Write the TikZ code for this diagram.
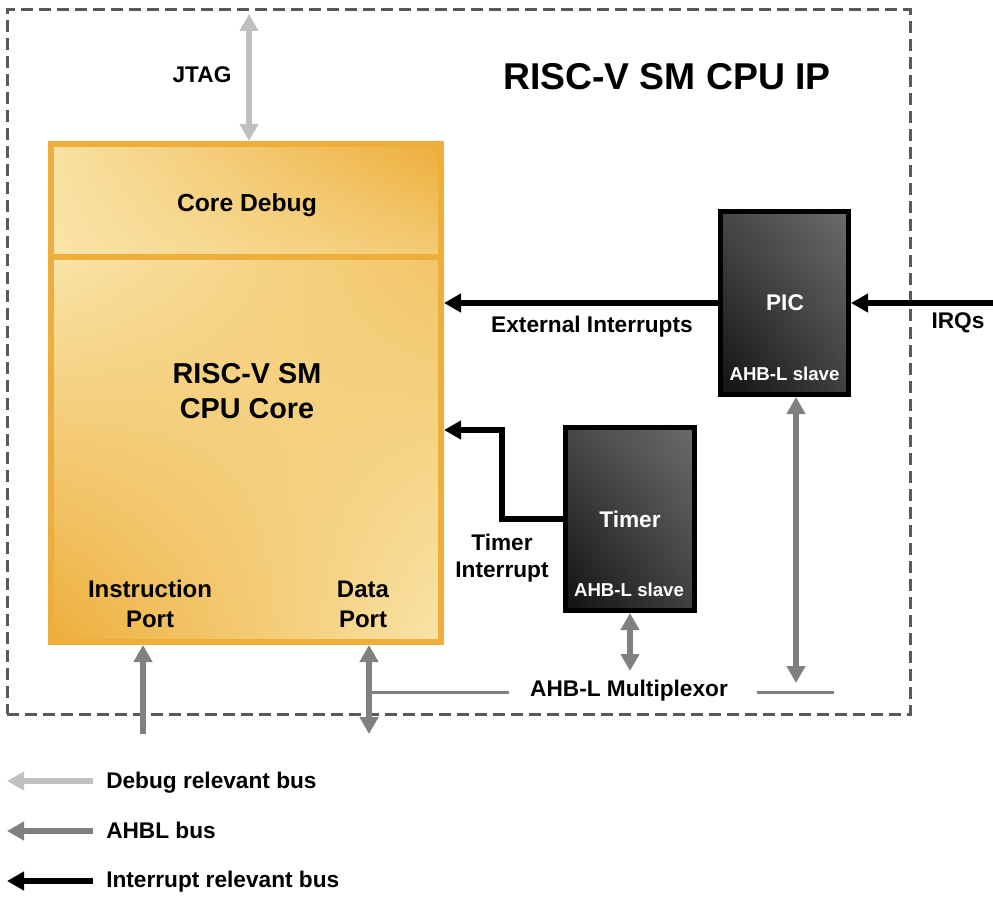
\documentclass[tikz,border=0pt]{standalone}
\usepackage{fontspec}
\setmainfont{Liberation Sans}
\usetikzlibrary{arrows.meta,calc,shadings}
\definecolor{orng}{HTML}{EDAE3B}
\definecolor{lightor}{HTML}{F9E4A8}
\definecolor{midor}{HTML}{F2C567}
\definecolor{dbgc}{HTML}{C0C0C0}
\definecolor{ahbc}{HTML}{808080}
\definecolor{dashgray}{HTML}{5A5A5A}
\tikzset{
  tipA/.tip={Triangle[length=12.75pt,width=13.5pt]},
  txt/.style={inner sep=0pt, font=\bfseries\fontsize{17}{20}\selectfont, align=center},
  orbox/.style={draw=orng, line width=4.5pt},
  darkbox/.style={draw=black, line width=3.75pt, upper left={black!72}, upper right={black!58}, lower left={black!93}, lower right={black!75}},
  dbgbus/.style={draw=dbgc, line width=4.5pt},
  ahbbus/.style={draw=ahbc, line width=4.5pt},
  irqbus/.style={draw=black, line width=4.5pt},
  muxline/.style={draw=ahbc, line width=2.25pt},
}
\begin{document}
\begin{tikzpicture}[x=0.75pt,y=-0.75pt]
\useasboundingbox (0,0) rectangle (993,906);
% outer dashed IP box
\node[draw=dashgray, line width=2.25pt, dash pattern=on 9pt off 4.5pt, minimum width={903*0.75pt}, minimum height={704*0.75pt}, inner sep=0pt, outer sep=0pt] (ip) at (458.5,362) {};
\node[txt, font=\bfseries\fontsize{28}{34}\selectfont] (title) at (667,77) {RISC-V SM CPU IP};

% core
\node[orbox, upper left=lightor, upper right=midor, lower left=orng, lower right=lightor, minimum width={390*0.75pt}, minimum height={385*0.75pt}, inner sep=0pt] (core) at (246,449.5) {};
\node[orbox, upper left=lightor!90!midor, upper right=orng, lower left=lightor, lower right=midor!80!lightor, minimum width={390*0.75pt}, minimum height={113*0.75pt}, inner sep=0pt] (debug) at (246,200.5) {};
\node[txt, font=\bfseries\fontsize{18.5}{22}\selectfont] (debugtxt) at (247,205) {Core Debug};
\node[txt, font=\bfseries\fontsize{21.6}{26.25}\selectfont] (coretxt) at (247,391.5) {RISC-V SM\\CPU Core};
\node[txt, font=\bfseries\fontsize{18}{22.5}\selectfont] (iport) at (150,604) {Instruction\\Port};
\node[txt, font=\bfseries\fontsize{18}{22.5}\selectfont] (dport) at (363,604) {Data\\Port};

% PIC and Timer
\node[darkbox, minimum width={128*0.75pt}, minimum height={183*0.75pt}, inner sep=0pt] (pic) at (784.5,303) {};
\node[txt, text=white] (pictxt) at (785,303) {PIC};
\node[txt, text=white, font=\bfseries\fontsize{14}{16}\selectfont] (picslave) at (784.5,374) {AHB-L slave};
\node[darkbox, minimum width={129*0.75pt}, minimum height={183*0.75pt}, inner sep=0pt] (timer) at (630,519) {};
\node[txt, text=white] (timertxt) at (630,519) {Timer};
\node[txt, text=white, font=\bfseries\fontsize{14}{16}\selectfont] (timerslave) at (629,590) {AHB-L slave};

% JTAG
\coordinate (jtagtop) at (249,14);
\draw[dbgbus, {tipA}-{tipA}] (jtagtop) -- (jtagtop |- debug.north);
\node[txt] (jtag) at (202,75) {JTAG};

% interrupts
\draw[irqbus, -{tipA}] (pic.west) -- (core.east |- pic.west);
\node[txt] (extint) at (592,327) {External Interrupts};
\coordinate (irqsrc) at (993,303);
\draw[irqbus, -{tipA}] (irqsrc) -- (pic.east);
\node[txt] (irqs) at (958,323) {IRQs};
\coordinate (tbend) at (502,430);
\draw[irqbus, -{tipA}] (timer.west) -- (tbend |- timer.west) -- (tbend) -- (core.east |- tbend);
\node[txt, font=\bfseries\fontsize{17}{20.25}\selectfont] (tint) at (502,558) {Timer\\Interrupt};

% AHB-L buses
\coordinate (tbus) at (630,671);
\draw[ahbbus, {tipA}-{tipA}] (timer.south) -- (tbus);
\coordinate (pbus) at (796,683);
\draw[ahbbus, {tipA}-{tipA}] (pbus |- pic.south) -- (pbus);
\coordinate (ibus) at (143,734);
\draw[ahbbus, -{tipA}] (ibus) -- (ibus |- core.south);
\coordinate (dbus) at (369,734);
\draw[ahbbus, {tipA}-{tipA}] (dbus |- core.south) -- (dbus);
\node[txt] (mux) at (629,691) {AHB-L Multiplexor};
\coordinate (mla) at (369,692);
\coordinate (mlb) at (509,692);
\coordinate (mlc) at (757,692);
\coordinate (mld) at (834,692);
\draw[muxline] (mla) -- (mlb);
\draw[muxline] (mlc) -- (mld);

% legend
\coordinate (l1a) at (93,781); \coordinate (l1b) at (7,781);
\coordinate (l2a) at (93,831); \coordinate (l2b) at (7,831);
\coordinate (l3a) at (93,881); \coordinate (l3b) at (7,881);
\draw[dbgbus, -{tipA}] (l1a) -- (l1b);
\draw[ahbbus, -{tipA}] (l2a) -- (l2b);
\draw[irqbus, -{tipA}] (l3a) -- (l3b);
\node[txt, anchor=west] (leg1) at (106,783) {Debug relevant bus};
\node[txt, anchor=west] (leg2) at (106,830) {AHBL bus};
\node[txt, anchor=west] (leg3) at (106,882) {Interrupt relevant bus};
\end{tikzpicture}
\end{document}
